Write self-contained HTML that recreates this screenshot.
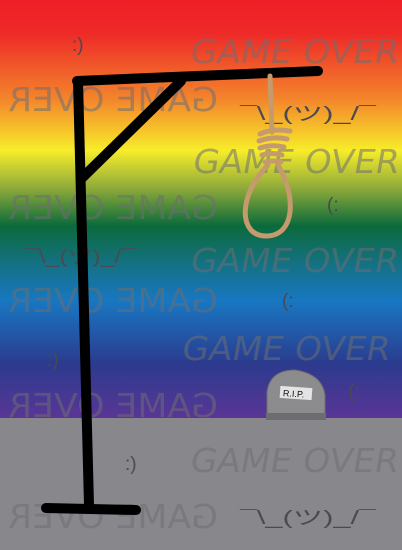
<!DOCTYPE html>
<html><head><meta charset="utf-8"><style>
html,body{margin:0;padding:0;width:402px;height:550px;overflow:hidden}
svg{display:block}
.go{font-family:"DejaVu Sans","Liberation Sans",sans-serif;font-size:33px;fill:#6e6e72;fill-opacity:.55}
.sm{font-family:"Liberation Sans","Noto Sans CJK JP",sans-serif;font-size:19px;fill:#4a4a50}
</style></head><body>
<svg width="402" height="550" viewBox="0 0 402 550">
<defs>
<linearGradient id="sky" x1="0" y1="0" x2="0" y2="1">
<stop offset="0" stop-color="#ee1f27"/>
<stop offset="0.08" stop-color="#ee2a28"/>
<stop offset="0.24" stop-color="#f3872b"/>
<stop offset="0.36" stop-color="#f7ed2a"/>
<stop offset="0.45" stop-color="#8eaa3a"/>
<stop offset="0.54" stop-color="#0b6a3b"/>
<stop offset="0.63" stop-color="#147182"/>
<stop offset="0.72" stop-color="#1877c2"/>
<stop offset="0.87" stop-color="#2b3b8e"/>
<stop offset="1" stop-color="#5a3596"/>
</linearGradient>
</defs>
<rect x="0" y="0" width="402" height="418" fill="url(#sky)"/>
<rect x="0" y="418" width="402" height="132" fill="#88888c"/>

<g>
<g transform="skewX(-10)">
<text class="go" x="200" y="63" textLength="208" lengthAdjust="spacingAndGlyphs">GAME OVER</text>
<text class="go" x="222" y="173" textLength="206" lengthAdjust="spacingAndGlyphs">GAME OVER</text>
<text class="go" x="237" y="272" textLength="208" lengthAdjust="spacingAndGlyphs">GAME OVER</text>
<text class="go" x="244" y="360" textLength="208" lengthAdjust="spacingAndGlyphs">GAME OVER</text>
<text class="go" x="272" y="472" textLength="208" lengthAdjust="spacingAndGlyphs">GAME OVER</text>
</g>
<g transform="scale(-1,1)">
<text class="go" x="-218" y="111" textLength="210" lengthAdjust="spacingAndGlyphs">GAME OVER</text>
<text class="go" x="-218" y="219" textLength="210" lengthAdjust="spacingAndGlyphs">GAME OVER</text>
<text class="go" x="-218" y="312" textLength="210" lengthAdjust="spacingAndGlyphs">GAME OVER</text>
<text class="go" x="-218" y="417" textLength="210" lengthAdjust="spacingAndGlyphs">GAME OVER</text>
<text class="go" x="-218" y="528" textLength="210" lengthAdjust="spacingAndGlyphs">GAME OVER</text>
</g>
</g>

<g>
<text class="sm" x="72" y="51">:)</text>
<text class="sm" x="47" y="366">:)</text>
<text class="sm" x="125" y="470">:)</text>
<text class="sm" x="327" y="211">(:</text>
<text class="sm" x="282" y="307">(:</text>
<text class="sm" x="348" y="398">(:</text>
<text class="sm" x="240" y="120" textLength="136" lengthAdjust="spacingAndGlyphs">¯\_(ツ)_/¯</text>
<text class="sm" x="25" y="263" textLength="110" lengthAdjust="spacingAndGlyphs">¯\_(ツ)_/¯</text>
<text class="sm" x="240" y="524" textLength="136" lengthAdjust="spacingAndGlyphs">¯\_(ツ)_/¯</text>
</g>

<g stroke="#000" stroke-width="10" stroke-linecap="round" fill="none">
<line x1="78" y1="81" x2="89" y2="505"/>
<line x1="77" y1="81" x2="318" y2="71"/>
<line x1="181" y1="81" x2="82" y2="178"/>
<line x1="46" y1="508" x2="136" y2="510"/>
</g>

<g stroke="#c59a6c" fill="none" stroke-linecap="round">
<line x1="270" y1="76" x2="272" y2="132" stroke-width="5"/>
<path d="M268 165 C 238 195, 238 236, 266 236 C 296 236, 296 195, 278 165" stroke-width="5"/>
<g stroke-width="5">
<path d="M260 134 Q272 128 290 131"/>
<path d="M259 141 Q272 136 287 139"/>
<path d="M260 148 Q272 144 284 147"/>
<path d="M262 155 Q272 152 282 155"/>
<path d="M265 162 Q272 160 281 162"/>
</g>
</g>

<g>
<path d="M267 415 L267 392 Q270 370 295 370 Q322 374 325 395 L325 415 Z" fill="#8c8c8e" stroke="#6e6e70" stroke-width="1"/>
<rect x="266" y="413" width="60" height="7" fill="#6d6d70"/>
<rect x="280" y="387" width="32" height="12" fill="#e4e4e4" transform="rotate(4 296 393)"/>
<text x="283" y="397" font-family="Liberation Sans,sans-serif" font-size="9" fill="#111" transform="rotate(4 296 393)">R.I.P.</text>
</g>
</svg>
</body></html>
